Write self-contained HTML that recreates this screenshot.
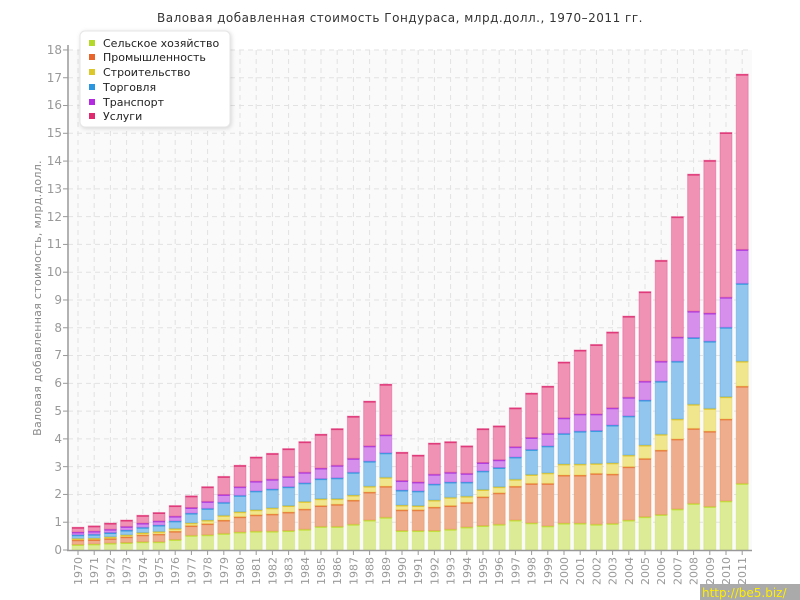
<!DOCTYPE html>
<html><head><meta charset="utf-8"><style>
body{margin:0;background:#fff;}
svg{display:block;font-family:"DejaVu Sans","Liberation Sans",sans-serif;}
</style></head><body>
<svg id="chart" width="800" height="600" xmlns="http://www.w3.org/2000/svg">
<rect x="0" y="0" width="800" height="600" fill="#fff"/>
<rect x="68" y="50" width="684" height="500" fill="#fafafa"/>
<g id="grid" stroke="#e2e2e2" stroke-dasharray="5,4" stroke-width="1"></g>
<g id="bars"></g>
<line x1="68" y1="45" x2="68" y2="551" stroke="#999" stroke-width="1.5"/>
<line x1="67" y1="550.5" x2="752" y2="550.5" stroke="#999" stroke-width="1.5"/>
<g id="ticks" stroke="#999"></g>
<text x="400" y="22" text-anchor="middle" font-size="12" letter-spacing="0.5" fill="#333">Валовая добавленная стоимость Гондураса, млрд.долл., 1970–2011 гг.</text>
<text transform="translate(41,298) rotate(-90)" text-anchor="middle" font-size="11" letter-spacing="0.3" fill="#888">Валовая добавленная стоимость, млрд.долл.</text>
<g font-size="12" fill="#999" text-anchor="end">
<text x="62" y="554">0</text><text x="62" y="526">1</text><text x="62" y="498">2</text><text x="62" y="471">3</text><text x="62" y="443">4</text><text x="62" y="415">5</text><text x="62" y="387">6</text><text x="62" y="359">7</text><text x="62" y="332">8</text><text x="62" y="304">9</text><text x="62" y="276">10</text><text x="62" y="248">11</text><text x="62" y="221">12</text><text x="62" y="193">13</text><text x="62" y="165">14</text><text x="62" y="137">15</text><text x="62" y="109">16</text><text x="62" y="82">17</text><text x="62" y="54">18</text>
</g>
<g font-size="11" fill="#999" text-anchor="end">
<text transform="translate(82,557) rotate(-90)">1970</text><text transform="translate(98.2,557) rotate(-90)">1971</text><text transform="translate(114.4,557) rotate(-90)">1972</text><text transform="translate(130.6,557) rotate(-90)">1973</text><text transform="translate(146.8,557) rotate(-90)">1974</text><text transform="translate(163,557) rotate(-90)">1975</text><text transform="translate(179.2,557) rotate(-90)">1976</text><text transform="translate(195.4,557) rotate(-90)">1977</text><text transform="translate(211.6,557) rotate(-90)">1978</text><text transform="translate(227.8,557) rotate(-90)">1979</text><text transform="translate(244,557) rotate(-90)">1980</text><text transform="translate(260.2,557) rotate(-90)">1981</text><text transform="translate(276.4,557) rotate(-90)">1982</text><text transform="translate(292.6,557) rotate(-90)">1983</text><text transform="translate(308.8,557) rotate(-90)">1984</text><text transform="translate(325,557) rotate(-90)">1985</text><text transform="translate(341.2,557) rotate(-90)">1986</text><text transform="translate(357.4,557) rotate(-90)">1987</text><text transform="translate(373.6,557) rotate(-90)">1988</text><text transform="translate(389.8,557) rotate(-90)">1989</text><text transform="translate(406,557) rotate(-90)">1990</text><text transform="translate(422.2,557) rotate(-90)">1991</text><text transform="translate(438.4,557) rotate(-90)">1992</text><text transform="translate(454.6,557) rotate(-90)">1993</text><text transform="translate(470.8,557) rotate(-90)">1994</text><text transform="translate(487,557) rotate(-90)">1995</text><text transform="translate(503.2,557) rotate(-90)">1996</text><text transform="translate(519.4,557) rotate(-90)">1997</text><text transform="translate(535.6,557) rotate(-90)">1998</text><text transform="translate(551.8,557) rotate(-90)">1999</text><text transform="translate(568,557) rotate(-90)">2000</text><text transform="translate(584.2,557) rotate(-90)">2001</text><text transform="translate(600.4,557) rotate(-90)">2002</text><text transform="translate(616.6,557) rotate(-90)">2003</text><text transform="translate(632.8,557) rotate(-90)">2004</text><text transform="translate(649,557) rotate(-90)">2005</text><text transform="translate(665.2,557) rotate(-90)">2006</text><text transform="translate(681.4,557) rotate(-90)">2007</text><text transform="translate(697.6,557) rotate(-90)">2008</text><text transform="translate(713.8,557) rotate(-90)">2009</text><text transform="translate(730,557) rotate(-90)">2010</text><text transform="translate(746.2,557) rotate(-90)">2011</text>
</g>
<rect x="80" y="31" width="150" height="96" rx="5" fill="#fff" stroke="#e6e6e6" style="filter:drop-shadow(1px 1px 2px rgba(0,0,0,0.15))"/>
<g font-size="11" fill="#222">
<rect x="89" y="40" width="6" height="6" fill="#b5d92a"/><text x="103" y="47">Сельское хозяйство</text>
<rect x="89" y="54" width="6" height="6" fill="#e8642a"/><text x="103" y="61">Промышленность</text>
<rect x="89" y="69" width="6" height="6" fill="#dcc82a"/><text x="103" y="76">Строительство</text>
<rect x="89" y="84" width="6" height="6" fill="#2a96e0"/><text x="103" y="91">Торговля</text>
<rect x="89" y="99" width="6" height="6" fill="#b42ae0"/><text x="103" y="106">Транспорт</text>
<rect x="89" y="113" width="6" height="6" fill="#e02a70"/><text x="103" y="120">Услуги</text>
</g>
<rect x="700" y="584" width="100" height="16" fill="#aaa"/>
<text x="702" y="597" font-size="12" fill="#ffee00">http://be5.biz/</text>
</svg>
<script>
(function(){
var d=[[.2,.37,.42,.55,.65,.82],[.22,.38,.43,.57,.68,.87],[.25,.42,.48,.63,.75,.97],[.27,.48,.55,.72,.85,1.08],[.3,.55,.63,.82,.97,1.25],[.3,.58,.67,.9,1.05,1.35],[.38,.68,.78,1.05,1.22,1.6],[.53,.88,.98,1.33,1.53,1.95],[.55,.95,1.08,1.5,1.75,2.28],[.6,1.08,1.25,1.72,2.0,2.65],[.65,1.2,1.38,1.97,2.28,3.05],[.68,1.27,1.45,2.13,2.48,3.35],[.68,1.3,1.52,2.2,2.55,3.48],[.7,1.37,1.6,2.28,2.65,3.65],[.75,1.48,1.75,2.42,2.8,3.9],[.85,1.6,1.85,2.57,2.95,4.17],[.85,1.65,1.85,2.6,3.05,4.37],[.93,1.8,1.98,2.8,3.3,4.82],[1.08,2.09,2.3,3.2,3.75,5.36],[1.18,2.3,2.62,3.5,4.15,5.97],[.7,1.45,1.62,2.16,2.5,3.52],[.7,1.45,1.6,2.13,2.45,3.42],[.7,1.55,1.8,2.38,2.73,3.85],[.75,1.6,1.9,2.45,2.8,3.9],[.83,1.72,1.94,2.45,2.76,3.75],[.88,1.92,2.18,2.85,3.15,4.37],[.93,2.06,2.28,2.97,3.25,4.47],[1.08,2.3,2.55,3.35,3.72,5.12],[.98,2.4,2.72,3.62,4.05,5.65],[.87,2.4,2.78,3.75,4.2,5.9],[.97,2.7,3.1,4.2,4.76,6.77],[.97,2.7,3.1,4.28,4.9,7.2],[.93,2.76,3.12,4.3,4.9,7.4],[.96,2.74,3.14,4.5,5.12,7.85],[1.08,3.0,3.42,4.83,5.5,8.42],[1.2,3.3,3.78,5.4,6.08,9.3],[1.28,3.6,4.17,6.08,6.8,10.43],[1.48,4.0,4.72,6.8,7.67,12.0],[1.68,4.38,5.25,7.65,8.6,13.53],[1.57,4.28,5.1,7.52,8.53,14.03],[1.77,4.72,5.52,8.02,9.1,15.03],[2.4,5.9,6.8,9.6,10.82,17.13]];
var fill=['#dcec96','#eeae8e','#f0e68e','#92c6ee','#d690ec','#f092b4'];
var line=['#c4e040','#e87a40','#e4c832','#3a9ee0','#b040e0','#e03a7a'];
var NS='http://www.w3.org/2000/svg';
function sc(v){return 550-v*27.78;}
function el(p,t,a){var e=document.createElementNS(NS,t);for(var k in a)e.setAttribute(k,a[k]);p.appendChild(e);return e;}
var g=document.getElementById('grid'),b=document.getElementById('bars'),tk=document.getElementById('ticks');
for(var i=1;i<=18;i++){var yy=sc(i);el(g,'line',{x1:68,x2:752,y1:yy,y2:yy});el(tk,'line',{x1:63,x2:68,y1:yy,y2:yy});}
el(tk,'line',{x1:63,x2:68,y1:550,y2:550});
for(var i=0;i<42;i++){var cx=78+i*16.2;el(g,'line',{x1:cx,x2:cx,y1:50,y2:550});el(tk,'line',{x1:cx,x2:cx,y1:550,y2:555});
var prev=0;for(var j=0;j<6;j++){var yt=sc(d[i][j]),yb=sc(prev);
el(b,'rect',{x:cx-6,y:yt,width:12,height:Math.max(yb-yt,0.5),fill:fill[j],stroke:line[j],'stroke-opacity':0.35});
el(b,'rect',{x:cx-6,y:yt,width:12,height:1.5,fill:line[j]});prev=d[i][j];}}
})();
</script>
</body></html>
